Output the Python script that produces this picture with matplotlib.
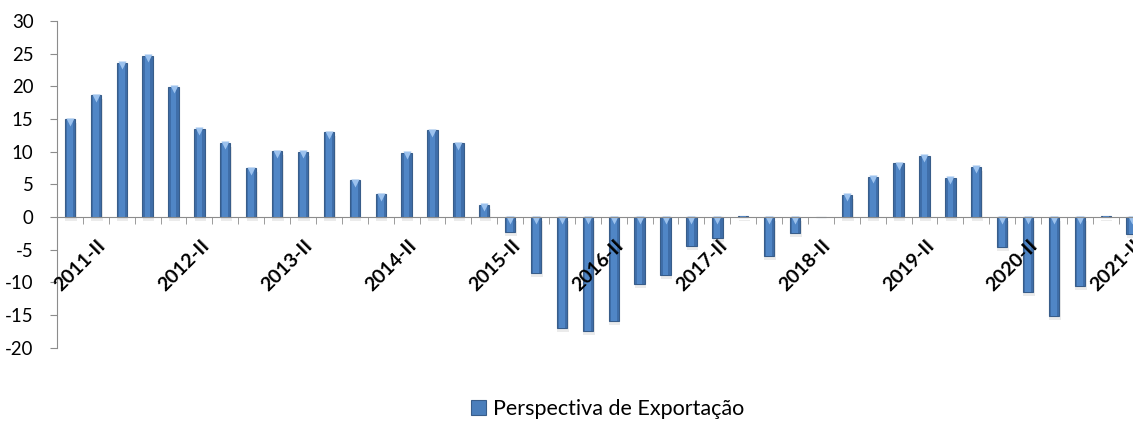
import matplotlib
matplotlib.use('Agg')
from matplotlib import pyplot as plt
from matplotlib.patches import Patch
from matplotlib.transforms import ScaledTranslation
import numpy as np

plt.rcParams['font.family'] = ['Lato', 'DejaVu Sans']

# quarters shown on the category axis
quarters = ['2011-II', '2011-III', '2011-IV',
            '2012-I', '2012-II', '2012-III', '2012-IV',
            '2013-I', '2013-II', '2013-III', '2013-IV',
            '2014-I', '2014-II', '2014-III', '2014-IV',
            '2015-I', '2015-II', '2015-III', '2015-IV',
            '2016-I', '2016-II', '2016-III', '2016-IV',
            '2017-I', '2017-II', '2017-III', '2017-IV',
            '2018-I', '2018-II', '2018-III', '2018-IV',
            '2019-I', '2019-II', '2019-III', '2019-IV',
            '2020-I', '2020-II', '2020-III', '2020-IV',
            '2021-I', '2021-II', '2021-III']

# Perspectiva de Exportação
exportacao = [15.0, 18.6, 23.6, 24.7, 19.9, 13.5, 11.4, 7.5, 10.1, 10.0,
              13.0, 5.6, 3.5, 9.8, 13.3, 11.3, 1.9, -2.3, -8.5, -17.0,
              -17.4, -15.9, -10.3, -8.9, -4.5, -3.2, 0.1, -6.0, -2.4, 0.0,
              3.4, 6.2, 8.2, 9.4, 6.0, 7.7, -4.6, -11.4, -15.1, -10.5,
              0.1, -2.6]

y_ticks = [-20, -15, -10, -5, 0, 5, 10, 15, 20, 25, 30]
label_every = 4

fig = plt.figure(figsize=(11.33, 4.21), dpi=100)
ax = fig.add_axes([57 / 1133, 73.3 / 421, 1087.6 / 1133, 326.7 / 421])

x = np.arange(len(quarters))
vals = np.array(exportacao)

# soft shadow under each bar
shadow = ax.transData + ScaledTranslation(0.01, -0.04, fig.dpi_scale_trans)
ax.bar(x, vals, width=0.44, color='#7f7f7f', alpha=0.15, lw=0,
       transform=shadow, zorder=1)

# the bars, with a darker rim and a lighter core
ax.bar(x, vals, width=0.40, color='#3F6EA9', edgecolor='#385D8A', lw=0.8, zorder=2)
ax.bar(x, vals, width=0.22, color='#5086C6', lw=0, zorder=3)

# little light bevel at the top end of every bar
tops = np.maximum(vals, 0)
mask = np.abs(vals) > 0.5
bevel = ax.transData + ScaledTranslation(0, -0.025, fig.dpi_scale_trans)
ax.plot(x[mask], tops[mask], ls='none', marker='v', ms=5.5, mfc='#9CC2EE',
        mec='none', transform=bevel, zorder=4)

ax.set_xlim(-0.5, len(quarters) - 0.5)
ax.set_ylim(-20, 30)

for s in ['top', 'right']:
    ax.spines[s].set_visible(False)
ax.spines['bottom'].set_position(('data', 0))
ax.spines['bottom'].set_color('#8c8c8c')
ax.spines['left'].set_color('#8c8c8c')
ax.spines['bottom'].set_zorder(5)

ax.set_yticks(y_ticks)
ax.set_yticklabels([str(t) for t in y_ticks])
ax.tick_params(axis='y', direction='out', length=5, color='#8c8c8c',
               labelsize=13.4, pad=12)

# category boundaries carry the tick marks, labels every 4 quarters
ax.set_xticks(np.arange(0.5, len(quarters) - 0.5, 1), minor=True)
ax.tick_params(axis='x', which='minor', direction='out', length=5,
               color='#8c8c8c')
ax.set_xticks([])

offset = ax.transData + ScaledTranslation(0.27, -0.20, fig.dpi_scale_trans)
for i in x[::label_every]:
    ax.text(i, 0, quarters[i], rotation=45, ha='right', va='top',
            rotation_mode='anchor', fontweight='bold', fontsize=14,
            transform=offset, clip_on=False, zorder=6)

handle = Patch(facecolor='#4A7EBB', edgecolor='#385D8A', lw=0.8)
fig.legend([handle], ['Perspectiva de Exportação'], loc='center',
           bbox_to_anchor=(607.5 / 1133, 1 - 409 / 421), frameon=False,
           fontsize=15.5, handlelength=0.7, handleheight=0.7,
           handletextpad=0.35, borderpad=0, borderaxespad=0)

fig.savefig('out.png', dpi=100)
